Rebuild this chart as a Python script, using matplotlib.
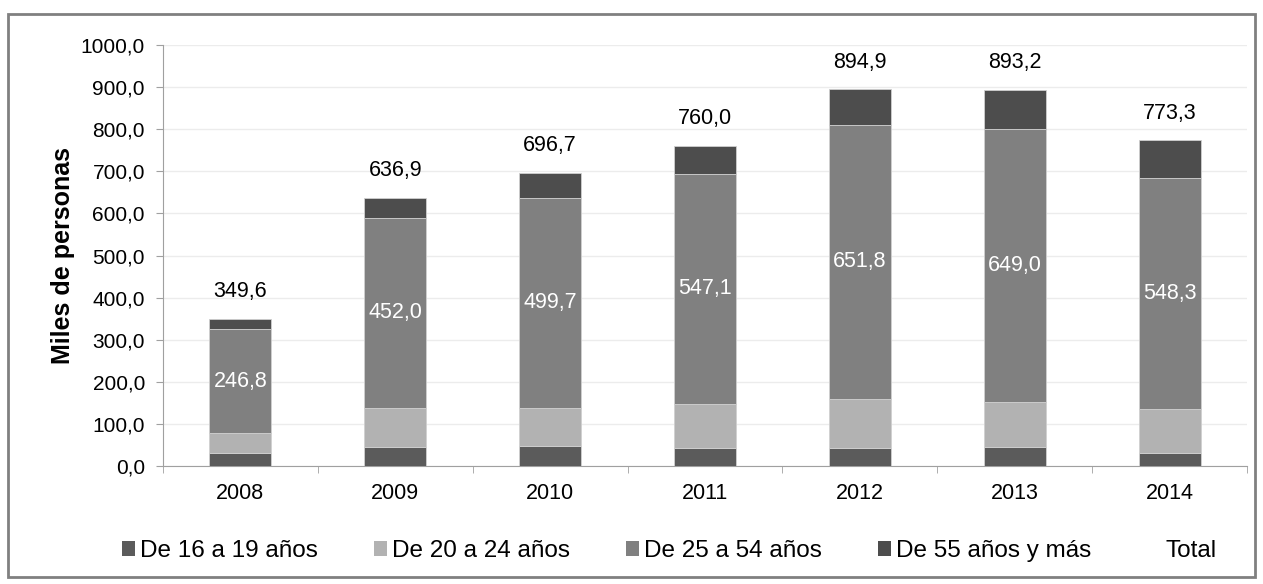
import matplotlib.pyplot as plt
import numpy as np
from matplotlib.patches import Patch, Rectangle

plt.rcParams['font.family'] = ['Liberation Sans', 'DejaVu Sans']

years = ['2008', '2009', '2010', '2011', '2012', '2013', '2014']
de_16_19 = [31.0, 45.0, 48.0, 42.0, 42.0, 45.0, 32.0]
de_20_24 = [47.0, 93.0, 90.0, 105.0, 117.0, 107.0, 103.0]
de_25_54 = [246.8, 452.0, 499.7, 547.1, 651.8, 649.0, 548.3]
de_55_mas = [24.8, 46.9, 59.0, 65.9, 84.1, 92.2, 90.0]
totals = [349.6, 636.9, 696.7, 760.0, 894.9, 893.2, 773.3]

series = [
    ('De 16 a 19 años', de_16_19, '#5b5b5b'),
    ('De 20 a 24 años', de_20_24, '#b2b2b2'),
    ('De 25 a 54 años', de_25_54, '#808080'),
    ('De 55 años y más', de_55_mas, '#4d4d4d'),
]

fig = plt.figure(figsize=(12.63, 5.84), dpi=100)
ax = fig.add_axes([163 / 1263, 1 - 466 / 584, 1084 / 1263, 421 / 584])

x = np.arange(len(years))
bottom = np.zeros(len(years))
for name, vals, color in series:
    ax.bar(x, vals, 0.4, bottom=bottom, color=color, edgecolor='#d0d0d0', linewidth=0.6, zorder=3)
    bottom += np.array(vals)

# values of the main group inside the bars
mid = np.array(de_16_19) + np.array(de_20_24) + np.array(de_25_54) / 2
for xi, m, v in zip(x, mid, de_25_54):
    ax.text(xi, m, f'{v:.1f}'.replace('.', ','), ha='center', va='center',
            color='white', fontsize=15.5, zorder=4)

for xi, t in zip(x, totals):
    ax.annotate(f'{t:.1f}'.replace('.', ','), (xi, t), xytext=(0, 12),
                textcoords='offset points', ha='center', va='bottom', fontsize=15.5)

ax.set_xlim(-0.5, len(years) - 0.5)
ax.set_ylim(0, 1000)
ax.set_yticks(np.arange(0, 1001, 100))
ax.set_yticklabels([f'{v:.1f}'.replace('.', ',') for v in np.arange(0, 1001, 100)], fontsize=15)
ax.set_xticks(x)
ax.set_xticklabels(years, fontsize=15.5)
ax.tick_params(axis='x', length=0, pad=12)
ax.set_xticks(np.arange(-0.5, len(years), 1), minor=True)
ax.tick_params(axis='x', which='minor', length=5, color='#a0a0a0')
ax.tick_params(axis='y', length=5, color='#a0a0a0', pad=8)
ax.set_ylabel('Miles de personas', fontsize=18, fontweight='bold', labelpad=4)

ax.grid(axis='y', color='#ececec', linewidth=1, zorder=0)
for side in ['top', 'right']:
    ax.spines[side].set_visible(False)
for side in ['left', 'bottom']:
    ax.spines[side].set_color('#a0a0a0')

handles = [Patch(facecolor=c, edgecolor='none', label=n) for n, _, c in series]
handles.append(Patch(facecolor='none', edgecolor='none', label='Total'))
fig.legend(handles=handles, loc='center', bbox_to_anchor=(0.53, 1 - 551 / 584), ncol=5,
           frameon=False, fontsize=17.5, handlelength=0.55, handleheight=0.55,
           handletextpad=0.2, columnspacing=2.3)

fig.patches.append(Rectangle((8 / 1263, 1 - 577 / 584), 1247 / 1263, 563 / 584,
                             transform=fig.transFigure, fill=False,
                             edgecolor='#808080', linewidth=2))

fig.savefig('out.png', dpi=100)
